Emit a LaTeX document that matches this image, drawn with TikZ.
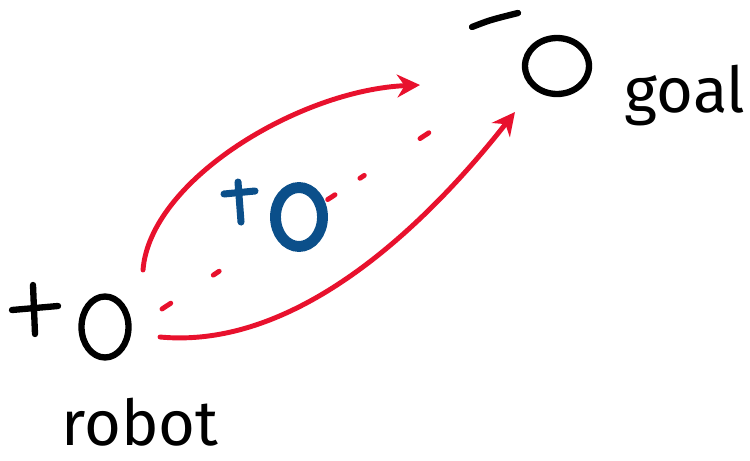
\documentclass[tikz,border=0pt]{standalone}
\usepackage{fontspec}
\setmainfont{Fira Sans}
\usetikzlibrary{arrows.meta,shapes.geometric}
\definecolor{sketchRed}{HTML}{E8112D}
\definecolor{sketchBlue}{HTML}{0B4F8A}
\tikzset{
    pen/.style={line width=3.6pt, line cap=round, line join=round},
    body/.style={pen, draw=black, ellipse, inner sep=0pt},
    obstbody/.style={draw=sketchBlue, line width=6.2pt, ellipse, inner sep=0pt},
    path/.style={draw=sketchRed, line width=2.8pt, line cap=round, -{Stealth[length=13pt, width=13pt]}},
    straight/.style={draw=sketchRed, line width=2.8pt, line cap=round, dash pattern=on 6pt off 29pt on 4pt off 74pt on 5pt off 17pt on 3pt off 38pt on 6pt},
    handlabel/.style={font=\fontsize{36}{40}\selectfont, anchor=base}
}
\begin{document}
\begin{tikzpicture}[x=0.02cm, y=-0.02cm]
    \useasboundingbox (0,0) rectangle (750,460);

    \node[body, minimum width=0.94cm, minimum height=1.22cm] (robot) at (105,327) {};
    \node[body, minimum width=1.28cm, minimum height=1.12cm] (goal) at (557,66) {};
    \node[obstbody, minimum width=0.94cm, minimum height=1.18cm] (obst) at (299,217) {};

    % charges
    \draw[pen] (33,285) -- (35,334);
    \draw[pen] (12,310) -- (58,306);
    \draw[pen] (472,27) .. controls (490,20) .. (518,13);
    \draw[sketchBlue, line width=4pt, line cap=round] (238,182) -- (241,222);
    \draw[sketchBlue, line width=4pt, line cap=round] (224,194) -- (255,191);

    \node[handlabel] (robotlabel) at (140,445) {robot};
    \node[handlabel] (goallabel) at (685,112) {goal};

    \coordinate (upstart) at (143,270);
    \coordinate (upend) at (420,85);
    \coordinate (lowstart) at (160,337);
    \coordinate (lowend) at (515,112);
    \coordinate (linestart) at (162,309);
    \coordinate (lineend) at (433,130);

    \draw[path] (upstart) .. controls (150,180) and (300,90) .. (upend);
    \draw[path] (lowstart) .. controls (300,350) and (430,220) .. (lowend);
    \draw[straight] (linestart) -- (lineend);
\end{tikzpicture}
\end{document}
